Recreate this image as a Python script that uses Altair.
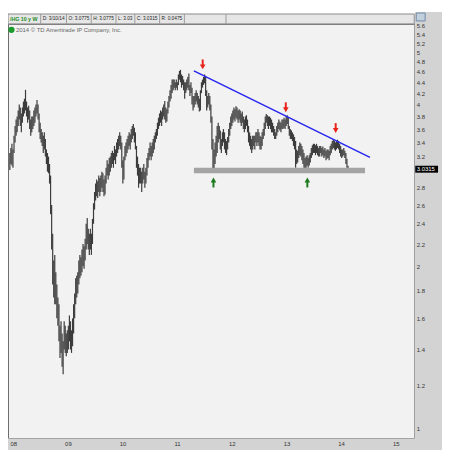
import altair as alt
import pandas as pd

# Weekly high / low of /HG (copper)
hi_2008 = [3.25, 3.32, 3.38, 3.30, 3.50, 3.65, 3.75, 3.80, 3.90, 4.00,
           3.95, 3.85, 3.95, 4.05, 4.10, 4.26, 4.05, 3.95, 3.98, 3.90,
           3.75, 3.80, 3.80, 3.90, 3.95, 4.00, 4.08, 4.00, 3.85, 3.70,
           3.60, 3.55, 3.50, 3.55, 3.45, 3.30, 3.25, 3.20, 3.10, 2.95,
           2.60, 2.30, 2.05, 2.10, 1.95, 1.85, 1.75, 1.70, 1.55, 1.58,
           1.50, 1.45]
lo_2008 = [3.02, 3.10, 3.08, 3.05, 3.25, 3.40, 3.50, 3.55, 3.65, 3.75,
           3.65, 3.55, 3.70, 3.80, 3.85, 3.90, 3.80, 3.70, 3.75, 3.60,
           3.50, 3.55, 3.60, 3.65, 3.70, 3.80, 3.85, 3.75, 3.55, 3.45,
           3.40, 3.35, 3.25, 3.30, 3.20, 3.10, 3.00, 2.98, 2.85, 2.50,
           2.15, 1.85, 1.75, 1.70, 1.70, 1.60, 1.55, 1.45, 1.35, 1.38,
           1.30, 1.26]
hi_2009 = [1.58, 1.55, 1.50, 1.52, 1.55, 1.62, 1.58, 1.52, 1.60, 1.70,
           1.78, 1.90, 1.92, 1.95, 2.05, 2.10, 2.08, 2.15, 2.20, 2.18,
           2.25, 2.40, 2.46, 2.35, 2.30, 2.35, 2.30, 2.45, 2.62, 2.75,
           2.85, 2.90, 2.88, 2.95, 2.92, 2.95, 3.00, 2.98, 2.90, 2.95,
           3.05, 3.15, 3.10, 3.18, 3.20, 3.25, 3.28, 3.25, 3.35, 3.30,
           3.40, 3.45]
lo_2009 = [1.40, 1.38, 1.36, 1.38, 1.40, 1.45, 1.40, 1.38, 1.42, 1.50,
           1.60, 1.70, 1.75, 1.78, 1.85, 1.90, 1.92, 1.95, 2.00, 1.98,
           2.05, 2.15, 2.20, 2.15, 2.10, 2.15, 2.10, 2.20, 2.40, 2.55,
           2.65, 2.70, 2.68, 2.75, 2.70, 2.75, 2.80, 2.75, 2.70, 2.72,
           2.85, 2.95, 2.90, 2.95, 3.00, 3.05, 3.10, 3.05, 3.15, 3.10,
           3.20, 3.25]
hi_2010 = [3.50, 3.55, 3.50, 3.40, 3.15, 3.20, 3.35, 3.40, 3.45, 3.50,
           3.55, 3.52, 3.60, 3.65, 3.68, 3.62, 3.55, 3.35, 3.20, 3.10,
           3.05, 3.05, 3.00, 3.05, 3.10, 3.00, 3.05, 3.18, 3.25, 3.32,
           3.40, 3.35, 3.40, 3.45, 3.50, 3.55, 3.60, 3.70, 3.78, 3.85,
           3.90, 3.88, 3.95, 4.00, 4.06, 3.95, 3.92, 4.05, 4.15, 4.25,
           4.35, 4.45, 4.45]
lo_2010 = [3.30, 3.35, 3.30, 3.05, 2.85, 2.90, 3.15, 3.20, 3.25, 3.30,
           3.35, 3.30, 3.40, 3.45, 3.50, 3.40, 3.30, 3.05, 2.95, 2.80,
           2.85, 2.85, 2.75, 2.85, 2.90, 2.80, 2.85, 2.95, 3.05, 3.15,
           3.20, 3.15, 3.20, 3.25, 3.30, 3.40, 3.45, 3.50, 3.60, 3.65,
           3.70, 3.65, 3.75, 3.80, 3.75, 3.70, 3.72, 3.85, 3.95, 4.05,
           4.10, 4.20, 4.25]
hi_2011 = [4.45, 4.40, 4.45, 4.40, 4.55, 4.62, 4.64, 4.55, 4.52, 4.45,
           4.40, 4.40, 4.45, 4.50, 4.57, 4.35, 4.40, 4.30, 4.15, 4.15,
           4.20, 4.25, 4.20, 4.15, 4.10, 4.25, 4.40, 4.45, 4.50, 4.55,
           4.50, 4.25, 4.15, 4.20, 4.15, 4.00, 3.80, 3.45, 3.30, 3.40,
           3.50, 3.65, 3.70, 3.65, 3.58, 3.45, 3.55, 3.60, 3.55, 3.45,
           3.42, 3.48]
lo_2011 = [4.30, 4.25, 4.30, 4.25, 4.35, 4.45, 4.40, 4.30, 4.35, 4.25,
           4.10, 4.20, 4.25, 4.30, 4.25, 4.15, 4.20, 4.00, 3.90, 3.95,
           4.00, 4.05, 4.00, 3.95, 3.88, 3.90, 4.20, 4.30, 4.35, 4.38,
           4.15, 3.90, 3.95, 4.00, 3.90, 3.70, 3.30, 3.00, 3.00, 3.10,
           3.20, 3.25, 3.40, 3.45, 3.30, 3.25, 3.35, 3.40, 3.30, 3.25,
           3.22, 3.30]
hi_2012 = [3.60, 3.70, 3.80, 3.85, 3.90, 3.95, 3.92, 3.97, 3.95, 3.90,
           3.92, 3.90, 3.85, 3.88, 3.80, 3.75, 3.80, 3.82, 3.75, 3.65,
           3.55, 3.50, 3.45, 3.50, 3.50, 3.50, 3.55, 3.55, 3.60, 3.55,
           3.50, 3.48, 3.55, 3.60, 3.70, 3.80, 3.84, 3.82, 3.80, 3.80,
           3.78, 3.75, 3.70, 3.65, 3.60, 3.55, 3.65, 3.70, 3.75, 3.72,
           3.70, 3.75]
lo_2012 = [3.40, 3.50, 3.60, 3.65, 3.70, 3.75, 3.72, 3.78, 3.75, 3.70,
           3.75, 3.70, 3.65, 3.70, 3.60, 3.55, 3.60, 3.65, 3.55, 3.40,
           3.35, 3.30, 3.25, 3.30, 3.35, 3.30, 3.40, 3.35, 3.40, 3.35,
           3.30, 3.30, 3.35, 3.45, 3.50, 3.60, 3.70, 3.65, 3.60, 3.65,
           3.60, 3.55, 3.55, 3.50, 3.45, 3.45, 3.50, 3.55, 3.60, 3.58,
           3.55, 3.60]
hi_2013 = [3.75, 3.78, 3.75, 3.80, 3.82, 3.78, 3.65, 3.60, 3.58, 3.55,
           3.52, 3.48, 3.42, 3.30, 3.28, 3.35, 3.40, 3.38, 3.35, 3.30,
           3.25, 3.18, 3.20, 3.22, 3.18, 3.22, 3.25, 3.32, 3.36, 3.38,
           3.38, 3.36, 3.38, 3.35, 3.32, 3.35, 3.35, 3.32, 3.34, 3.30,
           3.32, 3.28, 3.30, 3.30, 3.28, 3.35, 3.38, 3.42, 3.45, 3.42,
           3.40, 3.42]
lo_2013 = [3.60, 3.62, 3.60, 3.65, 3.68, 3.60, 3.50, 3.45, 3.45, 3.42,
           3.35, 3.30, 3.05, 3.10, 3.12, 3.18, 3.22, 3.20, 3.15, 3.10,
           3.05, 3.01, 3.05, 3.08, 3.05, 3.08, 3.12, 3.18, 3.22, 3.25,
           3.25, 3.22, 3.25, 3.22, 3.20, 3.20, 3.25, 3.20, 3.22, 3.18,
           3.20, 3.15, 3.17, 3.18, 3.15, 3.22, 3.25, 3.30, 3.32, 3.30,
           3.28, 3.30]
hi_2014 = [3.44, 3.42, 3.38, 3.35, 3.30, 3.30, 3.32, 3.28, 3.25, 3.17, 3.0775]
lo_2014 = [3.32, 3.30, 3.25, 3.20, 3.18, 3.20, 3.22, 3.18, 3.10, 3.05, 3.03]

highs = hi_2008 + hi_2009 + hi_2010 + hi_2011 + hi_2012 + hi_2013 + hi_2014
lows = lo_2008 + lo_2009 + lo_2010 + lo_2011 + lo_2012 + lo_2013 + lo_2014

dates = pd.date_range("2007-12-31", periods=len(highs), freq="7D")
tyear = [d.year + (d.dayofyear - 1) / (366 if d.is_leap_year else 365) for d in dates]
bars = pd.DataFrame({"t": tyear, "lo": lows, "hi": highs})

# annotations
trend_t = [2011.366, 2014.588]
trend_v = [4.62, 3.19]
support_t = [2011.366, 2014.498]
support_v = [2.98, 3.05]
red_t = [2011.527, 2013.048, 2013.961]
red_v = [4.65, 3.87, 3.54]
green_t = [2011.724, 2013.442]
green_v = [2.925, 2.925]
last_close = 3.0315

year_ticks = list(range(2008, 2016))
price_ticks = [1, 1.2, 1.4, 1.6, 1.8, 2, 2.2, 2.4, 2.6, 2.8, 3.2, 3.4, 3.6, 3.8,
               4, 4.2, 4.4, 4.6, 4.8, 5, 5.2, 5.4, 5.6]

header_cells = ["D: 3/10/14", "O: 3.0775", "H: 3.0775", "L: 3.03", "C: 3.0315", "R: 0.0475"]

FONT = "Liberation Sans"
W, H = 410, 418
xs = alt.Scale(domain=[2007.9637, 2015.399], nice=False, zero=False)
ys = alt.Scale(type="log", domain=[0.958, 5.65], nice=False)
one = pd.DataFrame({"d": [0]})

x_axis = alt.Axis(values=year_ticks, labelExpr="substring(toString(datum.value), 2, 4)",
                  orient="bottom", ticks=False, domain=False, grid=False,
                  labelAlign="left", labelFlush=False, labelOverlap=False,
                  labelFontSize=6, labelFont=FONT, labelColor="#333", labelPadding=2,
                  title=None, zindex=1)
y_axis = alt.Axis(values=price_ticks, format=".1~f", orient="right", ticks=False,
                  domain=False, grid=False, labelFlush=False, labelOverlap=False,
                  labelFontSize=6, labelFont=FONT, labelColor="#333", labelPadding=2,
                  title=None, zindex=1)


def X(field):
    return alt.X(field, scale=xs, axis=x_axis)


def Y(field):
    return alt.Y(field, scale=ys, axis=y_axis)


def box(x1, x2, y1, y2, fill, stroke=None):
    kw = dict(fill=fill)
    if stroke:
        kw.update(stroke=stroke, strokeWidth=1)
    return alt.Chart(one).mark_rect(**kw).encode(
        x=alt.value(x1), x2=alt.value(x2), y=alt.value(y1), y2=alt.value(y2))


def label(txt, x, y, size, color, weight="normal"):
    return alt.Chart(one).mark_text(
        text=txt, font=FONT, fontSize=size, color=color, fontWeight=weight,
        align="left", baseline="middle").encode(x=alt.value(x), y=alt.value(y))


def vline(x, y1, y2, color):
    return alt.Chart(one).mark_rule(color=color, strokeWidth=1).encode(
        x=alt.value(x), y=alt.value(y1), y2=alt.value(y2))


layers = []
# axis backgrounds
layers.append(box(410.5, 438, -12, 430, "#d3d3d3"))
layers.append(box(0, 438, 418.5, 430, "#d3d3d3"))

# weekly bars
layers.append(alt.Chart(bars).mark_rule(color="#3c3c3c", strokeWidth=1.2).encode(
    x=X("t:Q"), y=Y("lo:Q"), y2="hi:Q"))

# support band
sup = pd.DataFrame({"t": [support_t[0]], "t2": [support_t[1]],
                    "v": [support_v[0]], "v2": [support_v[1]]})
layers.append(alt.Chart(sup).mark_rect(color="#a4a4a4").encode(
    x=X("t:Q"), x2="t2:Q", y=Y("v:Q"), y2="v2:Q"))

# trend line
tr = pd.DataFrame({"t": trend_t, "v": trend_v})
layers.append(alt.Chart(tr).mark_line(color="#2626f0", strokeWidth=1.5).encode(
    x=X("t:Q"), y=Y("v:Q")))

# red arrows (down)
rd = pd.DataFrame({"t": red_t, "v": red_v})
layers.append(alt.Chart(rd).mark_rule(color="#e8231b", strokeWidth=2, yOffset=-10, y2Offset=-3).encode(
    x=X("t:Q"), y=Y("v:Q"), y2="v:Q"))
layers.append(alt.Chart(rd).mark_point(shape="triangle-down", filled=True, size=32,
                                       color="#e8231b", opacity=1, yOffset=-2.5).encode(
    x=X("t:Q"), y=Y("v:Q")))

# green arrows (up)
gr = pd.DataFrame({"t": green_t, "v": green_v})
layers.append(alt.Chart(gr).mark_rule(color="#1d7a1d", strokeWidth=2, yOffset=3, y2Offset=10).encode(
    x=X("t:Q"), y=Y("v:Q"), y2="v:Q"))
layers.append(alt.Chart(gr).mark_point(shape="triangle-up", filled=True, size=32,
                                       color="#1d7a1d", opacity=1, yOffset=2.5).encode(
    x=X("t:Q"), y=Y("v:Q")))

# last price box
lp = pd.DataFrame({"v": [last_close], "txt": ["3.0315"]})
layers.append(alt.Chart(lp).mark_rect(color="black", yOffset=-3.5, y2Offset=3.5).encode(
    x=alt.value(411), x2=alt.value(434), y=Y("v:Q"), y2="v:Q"))
layers.append(alt.Chart(lp).mark_text(color="white", font=FONT, fontSize=6, align="left",
                                      baseline="middle").encode(
    x=alt.value(412.5), y=Y("v:Q"), text="txt:N"))

# header bar
layers.append(box(0, 410, -10, 0, "#e6e6e6", "#8a8a8a"))
seps = [33, 59, 84, 109, 128, 153, 178, 220]
for s in seps:
    layers.append(vline(s, -10, 0, "#9a9a9a"))
layers.append(label("/HG 10 y W", 2, -5, 5.3, "#1c8c1c", "bold"))
cell_x = [35, 61, 86, 111, 130, 155]
for txt, cx in zip(header_cells, cell_x):
    layers.append(label(txt, cx, -5, 4.8, "#222"))

# copyright
layers.append(alt.Chart(one).mark_point(shape="circle", filled=True, size=40,
                                        color="#1c9a2c", opacity=1).encode(
    x=alt.value(3.5), y=alt.value(6)))
layers.append(label("2014 \u00a9 TD Ameritrade IP Company, Inc.", 8, 6, 6, "#666"))

# small icon at top right
layers.append(box(412, 421, -11, -3, "#c2d0de", "#6f8aa6"))

chart = alt.layer(*layers).properties(
    width=W, height=H,
    autosize=alt.AutoSizeParams(type="none"),
    padding={"left": 0, "top": 14, "right": 28, "bottom": 12},
    background="white",
).configure_view(fill="#f2f2f2", stroke="#6a6a6a", strokeWidth=1)

chart.save("out.html", embed_options={"renderer": "svg", "actions": False})
